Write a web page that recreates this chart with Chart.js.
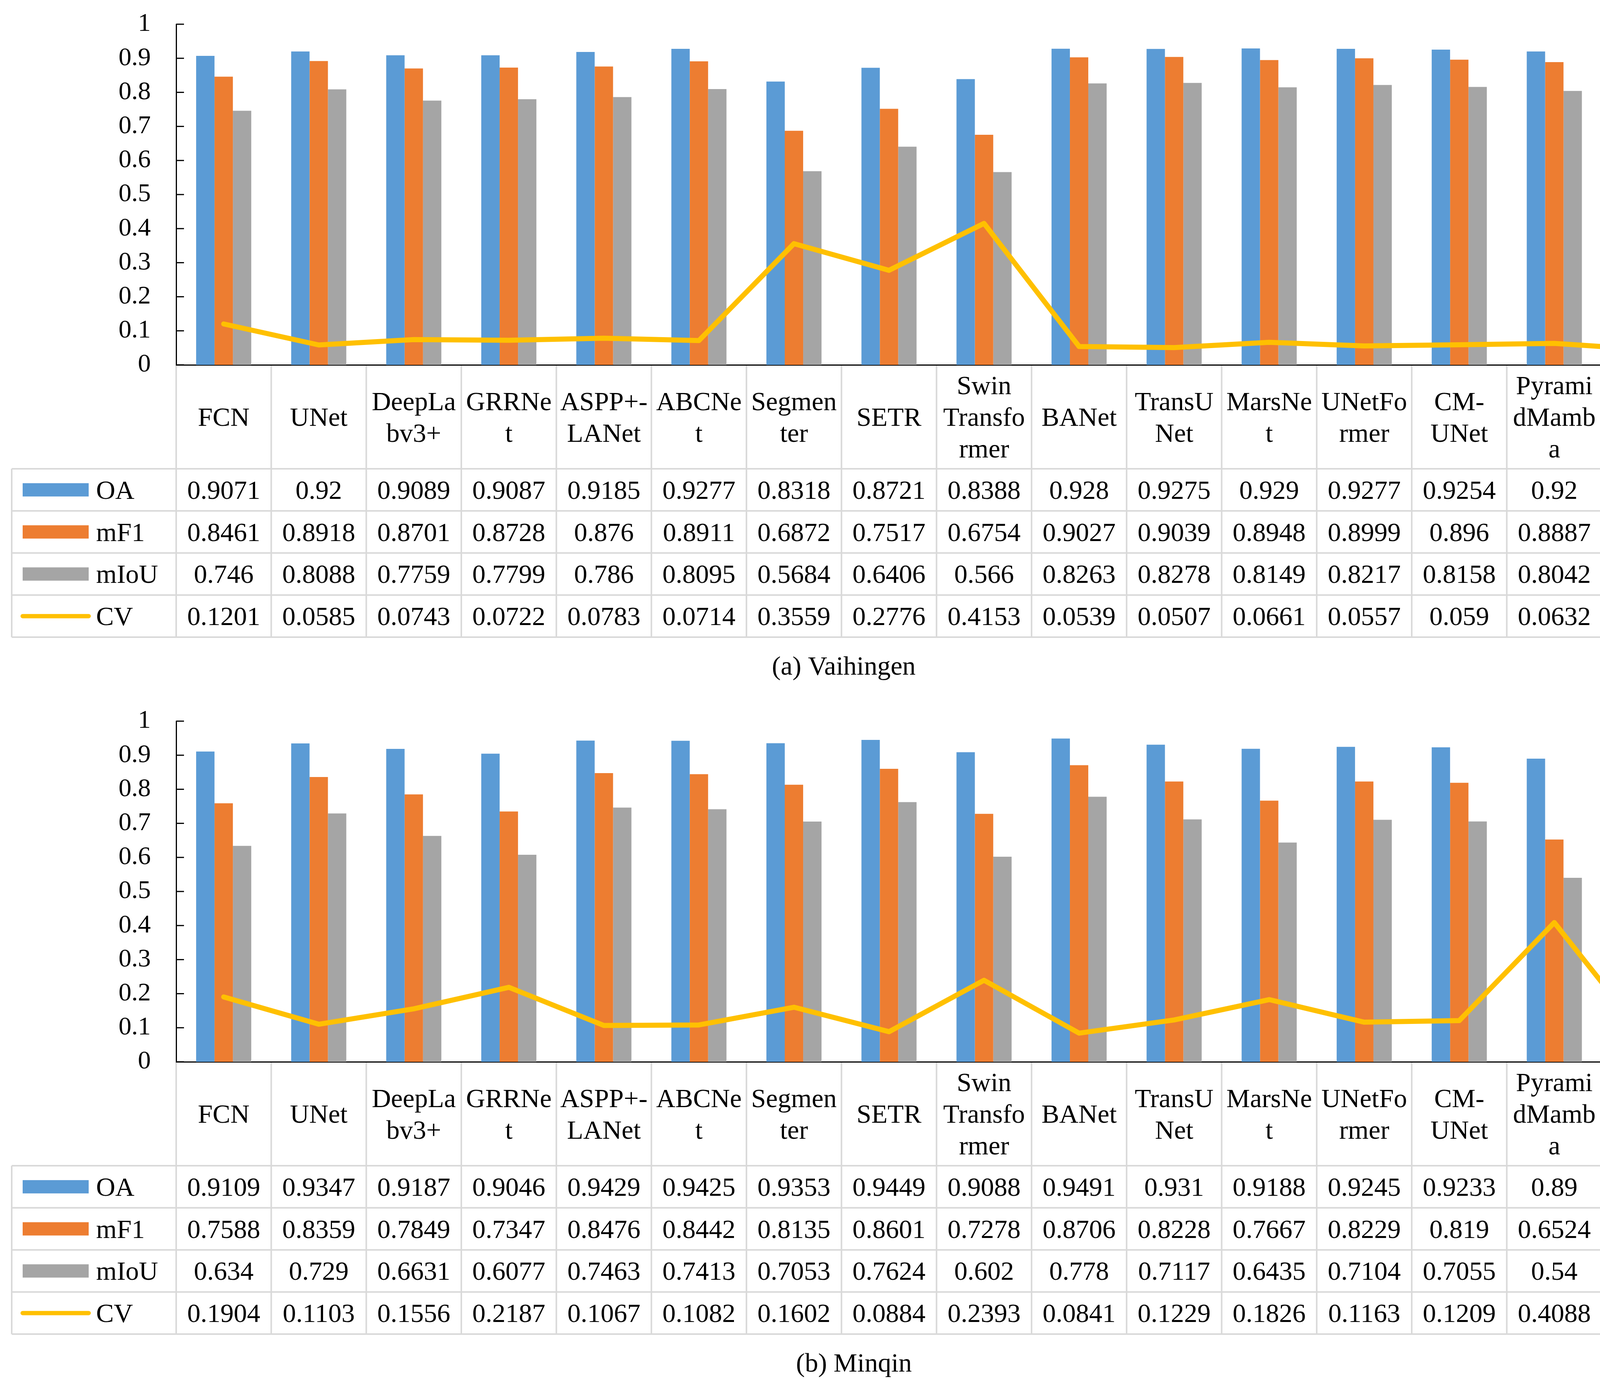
<!DOCTYPE html>
<html><head><meta charset="utf-8">
<script src="https://cdn.jsdelivr.net/npm/chart.js@4.4.1/dist/chart.umd.min.js"></script>
<style>
html,body{margin:0;padding:0;background:#fff;}
#wrap{position:relative;width:4377px;height:3553px;background:#fff;overflow:hidden;}
.box{position:absolute;left:0;width:4377px;height:1769px;}
</style></head><body>
<div id="wrap">
<div class="box" style="top:0px"><canvas id="c1" width="4377" height="1769"></canvas></div>
<div class="box" style="top:1784px"><canvas id="c2" width="4377" height="1769"></canvas></div>
</div>
<script>
// ---------- DATA ----------
const categories = ['FCN','UNet','DeepLabv3+','GRRNet','ASPP+-LANet','ABCNet','Segmenter','SETR','Swin Transformer','BANet','TransUNet','MarsNet','UNetFormer','CM-UNet','PyramidMamba','HRUMamba'];
const headerLabels = [['FCN'],['UNet'],['DeepLa','bv3+'],['GRRNe','t'],['ASPP+-','LANet'],['ABCNe','t'],['Segmen','ter'],['SETR'],['Swin','Transfo','rmer'],['BANet'],['TransU','Net'],['MarsNe','t'],['UNetFo','rmer'],['CM-','UNet'],['Pyrami','dMamb','a'],['HRUM','amba']];
const seriesNames = ['OA','mF1','mIoU','CV'];

const vaiOA   = [0.9071,0.92,0.9089,0.9087,0.9185,0.9277,0.8318,0.8721,0.8388,0.928,0.9275,0.929,0.9277,0.9254,0.92,0.9392];
const vaiMF1  = [0.8461,0.8918,0.8701,0.8728,0.876,0.8911,0.6872,0.7517,0.6754,0.9027,0.9039,0.8948,0.8999,0.896,0.8887,0.9225];
const vaiMIoU = [0.746,0.8088,0.7759,0.7799,0.786,0.8095,0.5684,0.6406,0.566,0.8263,0.8278,0.8149,0.8217,0.8158,0.8042,0.8588];
const vaiCV   = [0.1201,0.0585,0.0743,0.0722,0.0783,0.0714,0.3559,0.2776,0.4153,0.0539,0.0507,0.0661,0.0557,0.059,0.0632,0.0445];

const minOA   = [0.9109,0.9347,0.9187,0.9046,0.9429,0.9425,0.9353,0.9449,0.9088,0.9491,0.931,0.9188,0.9245,0.9233,0.89,0.955];
const minMF1  = [0.7588,0.8359,0.7849,0.7347,0.8476,0.8442,0.8135,0.8601,0.7278,0.8706,0.8228,0.7667,0.8229,0.819,0.6524,0.8988];
const minMIoU = [0.634,0.729,0.6631,0.6077,0.7463,0.7413,0.7053,0.7624,0.602,0.778,0.7117,0.6435,0.7104,0.7055,0.54,0.82];
const minCV   = [0.1904,0.1103,0.1556,0.2187,0.1067,0.1082,0.1602,0.0884,0.2393,0.0841,0.1229,0.1826,0.1163,0.1209,0.4088,0.0574];

const captions = ['(a) Vaihingen','(b) Minqin'];

// ---------- STYLE ----------
const COLORS = {OA:'#5B9BD5', mF1:'#ED7D31', mIoU:'#A5A5A5', CV:'#FFC000'};
const FONT = '"Liberation Serif", "Times New Roman", serif';
const GRID = '#D9D9D9';

const tablePlugin = {
  id: 'dataTable',
  afterDraw(chart, args, opts) {
    const ctx = chart.ctx, area = chart.chartArea;
    const xs = chart.scales.x, ys = chart.scales.y;
    const n = chart.data.labels.length;
    const w = area.width / n;
    const bounds = [];
    for (let i = 0; i < n; i++) bounds.push(xs.getPixelForValue(i) - w / 2);
    bounds.push(xs.getPixelForValue(n - 1) + w / 2);
    const top = area.bottom;
    const hb = top + 266;
    const rowH = 107.75;
    const tb = hb + 4 * rowH;
    const tableLeft = 30;
    ctx.save();
    // inward y tick marks
    ctx.strokeStyle = '#000'; ctx.lineWidth = 3;
    ys.ticks.forEach((t, i) => {
      const y = ys.getPixelForTick(i);
      ctx.beginPath(); ctx.moveTo(area.left, y); ctx.lineTo(area.left + 20, y); ctx.stroke();
    });
    // table grid
    ctx.strokeStyle = GRID; ctx.lineWidth = 4;
    const seg = (x1, y1, x2, y2) => { ctx.beginPath(); ctx.moveTo(x1, y1); ctx.lineTo(x2, y2); ctx.stroke(); };
    bounds.forEach(x => seg(x, top + 2, x, tb));
    seg(tableLeft, hb, tableLeft, tb);
    for (let r = 0; r <= 4; r++) seg(tableLeft, hb + r * rowH, bounds[n], hb + r * rowH);
    // header labels
    ctx.fillStyle = '#000';
    ctx.font = '68px ' + FONT;
    ctx.textAlign = 'center';
    ctx.textBaseline = 'alphabetic';
    const hc = (top + hb) / 2;
    const lh = 81;
    headerLabels.forEach((lines, i) => {
      const cx = xs.getPixelForValue(i);
      lines.forEach((s, k) => {
        ctx.fillText(s, cx, hc + 23 + (k - (lines.length - 1) / 2) * lh);
      });
    });
    // rows
    opts.rows.forEach((row, r) => {
      const cy = hb + r * rowH + rowH / 2;
      if (row.type === 'line') {
        ctx.strokeStyle = row.color; ctx.lineWidth = 11; ctx.lineCap = 'round';
        seg(58, cy, 227, cy);
        ctx.lineCap = 'butt';
      } else {
        ctx.fillStyle = row.color;
        ctx.fillRect(58, cy - 17, 169, 34);
      }
      ctx.fillStyle = '#000';
      ctx.textAlign = 'left';
      ctx.fillText(row.name, 246, cy + 23);
      ctx.textAlign = 'center';
      row.values.forEach((v, i) => {
        ctx.fillText(String(v), xs.getPixelForValue(i), cy + 23);
      });
    });
    // caption
    ctx.textAlign = 'center';
    ctx.font = '68px ' + FONT;
    ctx.fillText(opts.caption, opts.captionX, 1727);
    ctx.restore();
  }
};

function makeChart(id, oa, mf1, miou, cv, caption, captionX) {
  const values = [oa, mf1, miou, cv];
  return new Chart(document.getElementById(id), {
    data: {
      labels: categories,
      datasets: [
        {type:'line', label: seriesNames[3], data: cv, borderColor: COLORS.CV, backgroundColor: COLORS.CV,
         borderWidth: 13, pointRadius: 0, tension: 0, borderCapStyle: 'round', borderJoinStyle: 'round', order: 0},
        {type:'bar', label: seriesNames[0], data: oa, backgroundColor: COLORS.OA, order: 1,
         categoryPercentage: 0.58, barPercentage: 1.0},
        {type:'bar', label: seriesNames[1], data: mf1, backgroundColor: COLORS.mF1, order: 1,
         categoryPercentage: 0.58, barPercentage: 1.0},
        {type:'bar', label: seriesNames[2], data: miou, backgroundColor: COLORS.mIoU, order: 1,
         categoryPercentage: 0.58, barPercentage: 1.0}
      ]
    },
    options: {
      responsive: false,
      animation: false,
      devicePixelRatio: 1,
      layout: {padding: {top: 62, bottom: 835, left: 0, right: 33}},
      plugins: {
        legend: {display: false},
        tooltip: {enabled: false},
        dataTable: {
          caption: caption, captionX: captionX,
          rows: seriesNames.map((nm, i) => ({name: nm, values: values[i], color: COLORS[nm], type: nm === 'CV' ? 'line' : 'bar'}))
        }
      },
      scales: {
        x: {
          type: 'category', offset: true,
          grid: {display: false, drawTicks: false},
          ticks: {display: false},
          border: {display: true, color: '#000', width: 3},
          afterFit: (s) => { s.height = 0; }
        },
        y: {
          min: 0, max: 1,
          ticks: {stepSize: 0.1, color: '#000', font: {family: FONT, size: 66}, padding: 0,
                  callback: (v) => String(Number(v.toFixed(1)))},
          grid: {display: false, drawTicks: true, tickLength: 65},
          border: {display: true, color: '#000', width: 3},
          afterFit: (s) => { s.width = 451; }
        }
      }
    },
    plugins: [tablePlugin]
  });
}

makeChart('c1', vaiOA, vaiMF1, vaiMIoU, vaiCV, captions[0], 2160);
makeChart('c2', minOA, minMF1, minMIoU, minCV, captions[1], 2186);
</script>
</body></html>
